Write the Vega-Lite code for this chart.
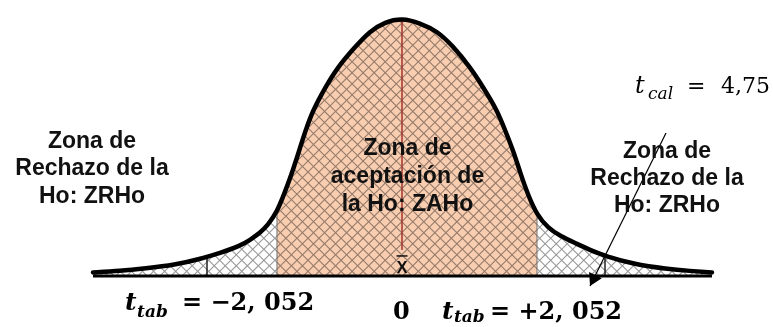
{
  "$schema": "https://vega.github.io/schema/vega-lite/v6.json",
  "width": 773,
  "height": 327,
  "padding": 0,
  "autosize": {"type": "none"},
  "background": "white",
  "config": {"view": {"stroke": null}},
  "datasets": {
    "curve": [
      {"x": -4.12, "y": 0.0054}, {"x": -3.76, "y": 0.0077}, {"x": -3.427, "y": 0.0115},
      {"x": -3.027, "y": 0.0169}, {"x": -2.693, "y": 0.0261}, {"x": -2.427, "y": 0.0352},
      {"x": -2.16, "y": 0.046}, {"x": -2.027, "y": 0.0552}, {"x": -1.893, "y": 0.0659},
      {"x": -1.787, "y": 0.0782}, {"x": -1.667, "y": 0.0981}, {"x": -1.56, "y": 0.1287},
      {"x": -1.453, "y": 0.1625}, {"x": -1.36, "y": 0.1962}, {"x": -1.293, "y": 0.2207},
      {"x": -1.187, "y": 0.2544}, {"x": -1.027, "y": 0.2881}, {"x": -0.867, "y": 0.3188},
      {"x": -0.627, "y": 0.351}, {"x": -0.427, "y": 0.3755}, {"x": -0.227, "y": 0.3893},
      {"x": 0, "y": 0.3954}, {"x": 0.24, "y": 0.3877}, {"x": 0.467, "y": 0.3755},
      {"x": 0.667, "y": 0.354}, {"x": 0.907, "y": 0.3203}, {"x": 1.08, "y": 0.2897},
      {"x": 1.267, "y": 0.2544}, {"x": 1.373, "y": 0.2238}, {"x": 1.48, "y": 0.1931},
      {"x": 1.573, "y": 0.1594}, {"x": 1.68, "y": 0.1241}, {"x": 1.8, "y": 0.0935},
      {"x": 1.947, "y": 0.0736}, {"x": 2.107, "y": 0.0613}, {"x": 2.307, "y": 0.0506},
      {"x": 2.507, "y": 0.0398}, {"x": 2.707, "y": 0.0307}, {"x": 3.08, "y": 0.0184},
      {"x": 3.533, "y": 0.0107}, {"x": 3.84, "y": 0.0077}, {"x": 4.133, "y": 0.0054}
    ],
    "hatch": [
      {"x": -6, "y": 0.8829, "x2": 6, "y2": -0.4967},
      {"x": -6, "y": -0.4967, "x2": 6, "y2": 0.8829}
    ],
    "covers": [
      {"x": -5.36, "x2": -4.12, "y": -0.0782, "y2": 0.423},
      {"x": 4.133, "x2": 4.9467, "y": -0.0782, "y2": 0.423},
      {"x": -5.36, "x2": 4.9467, "y": -0.0782, "y2": 0}
    ],
    "edges": [{"x": -1.667, "y": 0.0981}, {"x": 1.8, "y": 0.0935}],
    "cuts": [{"x": -2.6, "y": 0.0293}, {"x": 2.707, "y": 0.0307}],
    "mean": [{"x": 0, "y": 0.3954, "y0": 0.0398}],
    "base": [{"x": -4.12, "x2": 4.133, "y": 0}],
    "xbar": [{"x": 0, "y": 0.0046, "text": "X"}],
    "xbarline": [{"x": -0.073, "x2": 0.073, "y": 0.0307}],
    "arrow": [{"x": 3.52, "y": 0.2192, "x2": 2.507, "y2": -0.0153}],
    "arrowHead": [{"x": 2.543, "y": -0.007}],
    "zone": [
      {"x": -4.133, "y": 0.1962, "text": "Zona de"},
      {"x": -4.133, "y": 0.1548, "text": "Rechazo de la"},
      {"x": -4.133, "y": 0.1119, "text": "Ho: ZRHo"},
      {"x": 0.073, "y": 0.1854, "text": "Zona de"},
      {"x": 0.073, "y": 0.1425, "text": "aceptación de"},
      {"x": 0.073, "y": 0.0996, "text": "la Ho: ZAHo"},
      {"x": 3.533, "y": 0.1808, "text": "Zona de"},
      {"x": 3.533, "y": 0.1395, "text": "Rechazo de la"},
      {"x": 3.533, "y": 0.0981, "text": "Ho: ZRHo"}
    ],
    "mathBI": [{"x": -3.693, "y": -0.0521, "text": "t"}, {"x": 0.533, "y": -0.0659, "text": "t"}],
    "mathBIsub": [{"x": -3.533, "y": -0.0628, "text": "tab"}, {"x": 0.693, "y": -0.0713, "text": "tab"}],
    "mathB": [
      {"x": -2.933, "y": -0.0521, "text": "= −2, 052"},
      {"x": 1.173, "y": -0.0659, "text": "= +2, 052"},
      {"x": -0.12, "y": -0.0659, "text": "0"}
    ],
    "mathI": [{"x": 3.107, "y": 0.2805, "text": "t"}],
    "mathIsub": [{"x": 3.28, "y": 0.2713, "text": "cal"}],
    "mathR": [{"x": 3.8, "y": 0.2805, "text": "="}, {"x": 4.253, "y": 0.2805, "text": "4,75"}]
  },
  "encoding": {
    "x": {"field": "x", "type": "quantitative", "scale": {"domain": [-5.36, 4.9467], "nice": false, "zero": false}, "axis": null},
    "y": {"field": "y", "type": "quantitative", "scale": {"domain": [-0.0782, 0.423], "nice": false, "zero": false}, "axis": null}
  },
  "layer": [
    {"data": {"name": "hatch"}, "mark": {"type": "rule", "clip": true, "strokeWidth": 900, "strokeDash": [1.1, 6.7], "color": "#9a9a9a"},
     "encoding": {"x2": {"field": "x2"}, "y2": {"field": "y2"}}},
    {"data": {"name": "curve"}, "mark": {"type": "area", "interpolate": "basis", "color": "white"},
     "encoding": {"y2": {"datum": 0.423}}},
    {"data": {"name": "covers"}, "mark": {"type": "rect", "color": "white"},
     "encoding": {"x2": {"field": "x2"}, "y2": {"field": "y2"}}},
    {"data": {"name": "curve"}, "transform": [{"filter": "datum.x >= -1.667 && datum.x <= 1.8"}],
     "mark": {"type": "area", "interpolate": "basis", "color": "#f9cdb0", "blend": "multiply"},
     "encoding": {"y2": {"datum": 0}}},
    {"data": {"name": "edges"}, "mark": {"type": "rule", "color": "#707070", "strokeWidth": 1},
     "encoding": {"y2": {"datum": 0}}},
    {"data": {"name": "cuts"}, "mark": {"type": "rule", "color": "#222222", "strokeWidth": 1.5},
     "encoding": {"y2": {"datum": 0}}},
    {"data": {"name": "mean"}, "mark": {"type": "rule", "color": "#a3342a", "strokeWidth": 1.5},
     "encoding": {"y2": {"field": "y0"}}},
    {"data": {"name": "base"}, "mark": {"type": "rule", "color": "black", "strokeWidth": 3},
     "encoding": {"x2": {"field": "x2"}}},
    {"data": {"name": "curve"}, "mark": {"type": "line", "interpolate": "basis", "color": "black", "strokeWidth": 4.5, "strokeCap": "round"},
     "encoding": {}},
    {"data": {"name": "xbar"}, "mark": {"type": "text", "font": "Liberation Sans", "fontWeight": "bold", "fontSize": 16, "align": "center", "baseline": "alphabetic", "color": "#111111"},
     "encoding": {"text": {"field": "text"}}},
    {"data": {"name": "xbarline"}, "mark": {"type": "rule", "color": "#111111", "strokeWidth": 1.5},
     "encoding": {"x2": {"field": "x2"}}},
    {"data": {"name": "arrow"}, "mark": {"type": "rule", "color": "black", "strokeWidth": 1.2},
     "encoding": {"x2": {"field": "x2"}, "y2": {"field": "y2"}}},
    {"data": {"name": "arrowHead"}, "mark": {"type": "point", "shape": "triangle-down", "filled": true, "size": 200, "angle": 26.4, "color": "black", "opacity": 1}},
    {"data": {"name": "zone"}, "mark": {"type": "text", "font": "Liberation Sans", "fontWeight": "bold", "fontSize": 23, "align": "center", "baseline": "alphabetic", "color": "#111111"},
     "encoding": {"text": {"field": "text"}}},
    {"data": {"name": "mathBI"}, "mark": {"type": "text", "font": "DejaVu Serif", "fontWeight": "bold", "fontStyle": "italic", "fontSize": 25, "align": "left", "baseline": "alphabetic", "color": "black"},
     "encoding": {"text": {"field": "text"}}},
    {"data": {"name": "mathBIsub"}, "mark": {"type": "text", "font": "DejaVu Serif", "fontWeight": "bold", "fontStyle": "italic", "fontSize": 17, "align": "left", "baseline": "alphabetic", "color": "black"},
     "encoding": {"text": {"field": "text"}}},
    {"data": {"name": "mathB"}, "mark": {"type": "text", "font": "DejaVu Serif", "fontWeight": "bold", "fontSize": 24, "align": "left", "baseline": "alphabetic", "color": "black"},
     "encoding": {"text": {"field": "text"}}},
    {"data": {"name": "mathI"}, "mark": {"type": "text", "font": "DejaVu Serif", "fontStyle": "italic", "fontSize": 24, "align": "left", "baseline": "alphabetic", "color": "black"},
     "encoding": {"text": {"field": "text"}}},
    {"data": {"name": "mathIsub"}, "mark": {"type": "text", "font": "DejaVu Serif", "fontStyle": "italic", "fontSize": 17, "align": "left", "baseline": "alphabetic", "color": "black"},
     "encoding": {"text": {"field": "text"}}},
    {"data": {"name": "mathR"}, "mark": {"type": "text", "font": "DejaVu Serif", "fontSize": 22, "align": "left", "baseline": "alphabetic", "color": "black"},
     "encoding": {"text": {"field": "text"}}}
  ]
}
